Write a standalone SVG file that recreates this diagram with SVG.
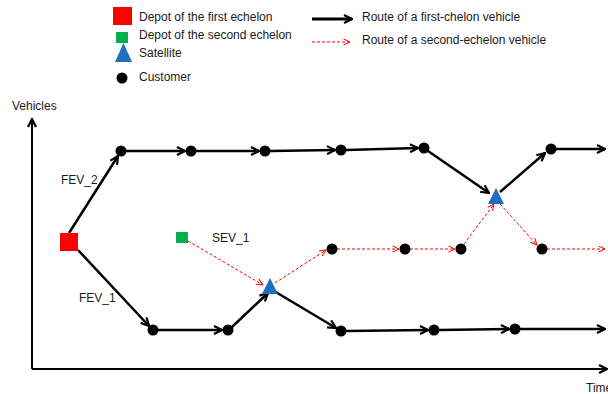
<svg xmlns="http://www.w3.org/2000/svg" width="608" height="394" viewBox="0 0 608 394">
<defs>
<marker id="ab" viewBox="0 0 10 10" markerWidth="10" markerHeight="10" refX="9" refY="5" orient="auto" markerUnits="userSpaceOnUse"><path d="M1,1 L9,5 L1,9" fill="none" stroke="#000" stroke-width="2.2"/></marker>
<marker id="ar" viewBox="0 0 8 8" markerWidth="8" markerHeight="8" refX="7.5" refY="4" orient="auto" markerUnits="userSpaceOnUse"><path d="M1,1 L7.5,4 L1,7" fill="none" stroke="#FF0000" stroke-width="1"/></marker>
</defs>
<style>
text{font-family:"Liberation Sans",Arial,sans-serif;font-size:12px;fill:#1a1a1a}
.b{stroke:#000;stroke-width:2.5;fill:none;marker-end:url(#ab)}
.r{stroke:#FF0000;stroke-width:1;stroke-dasharray:3,2;fill:none;marker-end:url(#ar)}
.ax{stroke:#000;stroke-width:2;fill:none}
.c{fill:#000}
.sat{fill:#1F6FBF}
.d1{fill:#FF0000}
.d2{fill:#00B050}
</style>
<g id="legend">
<rect class="d1" x="113" y="7" width="19" height="18"/>
<text x="139" y="21">Depot of the first echelon</text>
<rect class="d2" x="116" y="32" width="12" height="11"/>
<text x="139" y="39">Depot of the second echelon</text>
<polygon class="sat" points="123.5,43 115,62 132,62"/>
<text x="139" y="57">Satellite</text>
<circle class="c" cx="122" cy="78" r="5.5"/>
<text x="139" y="81">Customer</text>
<line x1="312" y1="19" x2="352" y2="19" class="b" style="stroke-width:3"/>
<text x="362" y="21">Route of a first-chelon vehicle</text>
<line x1="312" y1="42" x2="350" y2="42" class="r"/>
<text x="362" y="44">Route of a second-echelon vehicle</text>
</g>
<g id="axes">
<line class="ax" x1="32" y1="369" x2="32" y2="119" marker-end="url(#ab)"/>
<line class="ax" x1="32" y1="369" x2="607" y2="369" marker-end="url(#ab)"/>
<text x="12" y="110">Vehicles</text>
<text x="586" y="392">Time</text>
</g>
<g id="connectors">
<line class="b" x1="69" y1="233" x2="118" y2="156"/>
<line class="b" x1="126" y1="151" x2="185" y2="151"/>
<line class="b" x1="196" y1="151" x2="259" y2="151"/>
<line class="b" x1="270" y1="151" x2="335" y2="150"/>
<line class="b" x1="346" y1="150" x2="418" y2="148"/>
<line class="b" x1="428" y1="151" x2="489" y2="193"/>
<line class="b" x1="500" y1="192" x2="545" y2="153"/>
<line class="b" x1="556" y1="149" x2="605" y2="149"/>
<line class="b" x1="78" y1="250" x2="149" y2="326"/>
<line class="b" x1="158" y1="330" x2="222" y2="330"/>
<line class="b" x1="232" y1="327" x2="268" y2="293"/>
<line class="b" x1="274" y1="291" x2="336" y2="328"/>
<line class="b" x1="346" y1="331" x2="428" y2="330"/>
<line class="b" x1="439" y1="330" x2="509" y2="329"/>
<line class="b" x1="520" y1="329" x2="605" y2="329"/>
<line class="r" x1="188" y1="241" x2="263" y2="285"/>
<line class="r" x1="275" y1="283" x2="326" y2="250"/>
<line class="r" x1="337" y1="249" x2="399" y2="249"/>
<line class="r" x1="410" y1="249" x2="455" y2="249"/>
<line class="r" x1="464" y1="244" x2="494" y2="204"/>
<line class="r" x1="500" y1="204" x2="537" y2="245"/>
<line class="r" x1="547" y1="249" x2="605" y2="249"/>
</g>
<g id="depot1"><rect class="d1" x="60" y="233" width="18" height="18"/></g>
<g id="depot2"><rect class="d2" x="176" y="232" width="12" height="11"/></g>
<g id="sat1"><polygon class="sat" points="270,278 262,294 278,294"/></g>
<g id="sat2"><polygon class="sat" points="496,188 488,204 504,204"/></g>
<g id="t1"><circle class="c" cx="121" cy="151" r="5.5"/></g>
<g id="t2"><circle class="c" cx="191" cy="151" r="5.5"/></g>
<g id="t3"><circle class="c" cx="265" cy="151" r="5.5"/></g>
<g id="t4"><circle class="c" cx="341" cy="150" r="5.5"/></g>
<g id="t5"><circle class="c" cx="424" cy="148" r="5.5"/></g>
<g id="t6"><circle class="c" cx="551" cy="149" r="5.5"/></g>
<g id="b1"><circle class="c" cx="153" cy="330" r="5.5"/></g>
<g id="b2"><circle class="c" cx="228" cy="330" r="5.5"/></g>
<g id="b3"><circle class="c" cx="341" cy="331" r="5.5"/></g>
<g id="b4"><circle class="c" cx="434" cy="330" r="5.5"/></g>
<g id="b5"><circle class="c" cx="515" cy="329" r="5.5"/></g>
<g id="r1"><circle class="c" cx="332" cy="249" r="5.5"/></g>
<g id="r2"><circle class="c" cx="405" cy="249" r="5.5"/></g>
<g id="r3"><circle class="c" cx="461" cy="249" r="5.5"/></g>
<g id="r4"><circle class="c" cx="542" cy="249" r="5.5"/></g>
<g id="labels">
<text x="61" y="184">FEV_2</text>
<text x="79" y="302">FEV_1</text>
<text x="212" y="242">SEV_1</text>
</g>
</svg>
